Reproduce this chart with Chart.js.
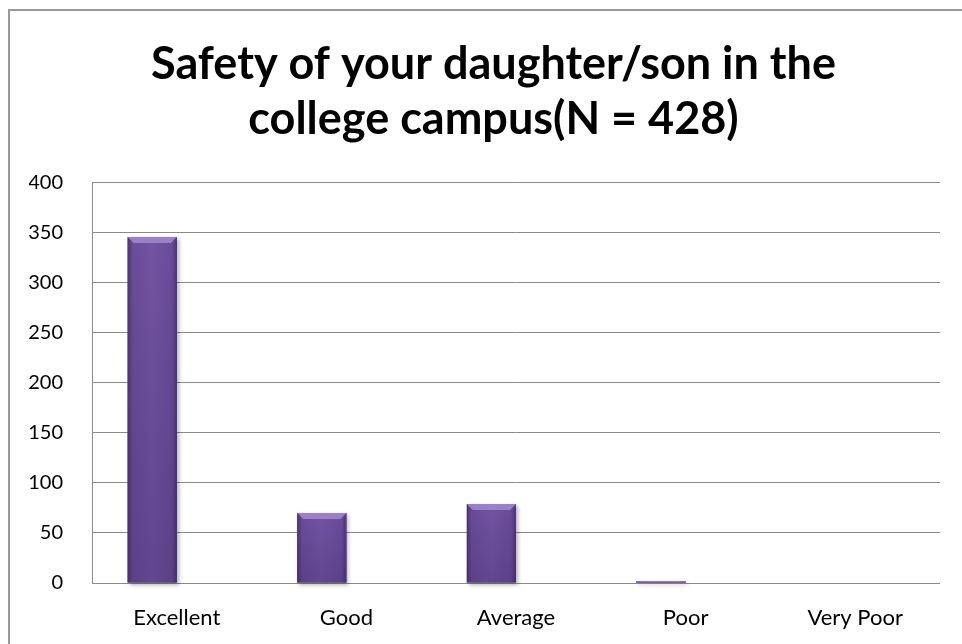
<!DOCTYPE html>
<html>
<head>
<meta charset="utf-8">
<script src="https://cdn.jsdelivr.net/npm/chart.js@4/dist/chart.umd.min.js"></script>
<style>
  html, body { margin: 0; padding: 0; background: #fff; }
  #wrap { width: 962px; height: 644px; position: relative; }
</style>
</head>
<body>
<div id="wrap"><canvas id="safetyChart"></canvas></div>
<script>
// Survey responses
const ratings = ['Excellent', 'Good', 'Average', 'Poor', 'Very Poor'];
const responses = [346, 70, 79, 2, 0];
// second series of the sheet is empty, it only reserves the slot next to each bar
const emptySeries = [null, null, null, null, null];
const titleLines = ['Safety of your daughter/son in the', 'college campus(N = 428)'];

const gridGray = '#8a8a8a';

// outer frame of the chart object (runs off the right and bottom edge)
const framePlugin = {
    id: 'frame',
    beforeDraw(chart) {
        const c = chart.ctx;
        c.save();
        c.strokeStyle = '#9a9a9a';
        c.lineWidth = 2;
        c.beginPath();
        c.moveTo(9, chart.height + 5);
        c.lineTo(9, 10);
        c.lineTo(chart.width + 5, 10);
        c.stroke();
        c.restore();
    }
};

// title is centred a little right of the canvas middle
const titleShift = {
    id: 'titleShift',
    afterLayout(chart) {
        if (chart.titleBlock) chart.titleBlock.left += 18;
    }
};

// shaded, bevelled look of the bars
const bevelPlugin = {
    id: 'bevel',
    afterDatasetDraw(chart, args) {
        if (args.index !== 0) return;
        const c = chart.ctx;
        args.meta.data.forEach(bar => {
            const h = bar.base - bar.y;
            if (h <= 0) return;
            const left = bar.x - bar.width / 2;
            const w = bar.width;
            c.save();

            // soft drop shadow
            c.shadowColor = 'rgba(0,0,0,0.3)';
            c.shadowBlur = 4;
            c.shadowOffsetX = 2;
            c.shadowOffsetY = 2;
            const g = c.createLinearGradient(left, 0, left + w, 0);
            g.addColorStop(0, '#4b3574');
            g.addColorStop(0.1, '#6a4c9a');
            g.addColorStop(0.5, '#7254a2');
            g.addColorStop(0.9, '#6a4c9a');
            g.addColorStop(1, '#4b3574');
            c.fillStyle = g;
            c.fillRect(left, bar.y, w, h);
            c.shadowColor = 'transparent';

            // darker toward the bottom
            const v = c.createLinearGradient(0, bar.y, 0, bar.base);
            v.addColorStop(0, 'rgba(40,20,70,0)');
            v.addColorStop(1, 'rgba(40,20,70,0.22)');
            c.fillStyle = v;
            c.fillRect(left, bar.y, w, h);

            // light top bevel
            const b = Math.min(6, h / 2);
            c.fillStyle = '#9a80c6';
            c.beginPath();
            c.moveTo(left, bar.y);
            c.lineTo(left + w, bar.y);
            c.lineTo(left + w - b, bar.y + b);
            c.lineTo(left + b, bar.y + b);
            c.closePath();
            c.fill();
            c.restore();
        });
    }
};

new Chart(document.getElementById('safetyChart'), {
    type: 'bar',
    data: {
        labels: ratings,
        datasets: [
            {
                label: 'Responses',
                data: responses,
                backgroundColor: '#6a4c9a',
                categoryPercentage: 0.58,
                barPercentage: 1
            },
            {
                label: '',
                data: emptySeries,
                backgroundColor: 'transparent',
                categoryPercentage: 0.58,
                barPercentage: 1
            }
        ]
    },
    options: {
        responsive: true,
        maintainAspectRatio: false,
        animation: false,
        layout: { padding: { top: 10, left: 29, right: 22, bottom: 11 } },
        plugins: {
            legend: { display: false },
            tooltip: { enabled: false },
            title: {
                display: true,
                text: titleLines,
                color: '#000',
                font: { family: 'Lato', size: 45, weight: 'bold', lineHeight: 1.244 },
                padding: { top: 26, bottom: 35 }
            }
        },
        scales: {
            x: {
                afterFit(scale) { scale.height = 50; },
                grid: { display: false, drawTicks: false },
                border: { display: false },
                ticks: {
                    color: '#000',
                    padding: 22,
                    font: { family: 'Lato', size: 22 }
                }
            },
            y: {
                min: 0,
                max: 400,
                afterFit(scale) { scale.width = 63; },
                grid: { color: gridGray, lineWidth: 1, drawTicks: false },
                border: { display: true, color: gridGray, width: 1 },
                ticks: {
                    stepSize: 50,
                    color: '#000',
                    padding: 29,
                    font: { family: 'Lato', size: 20 }
                }
            }
        }
    },
    plugins: [framePlugin, titleShift, bevelPlugin]
});
</script>
</body>
</html>
